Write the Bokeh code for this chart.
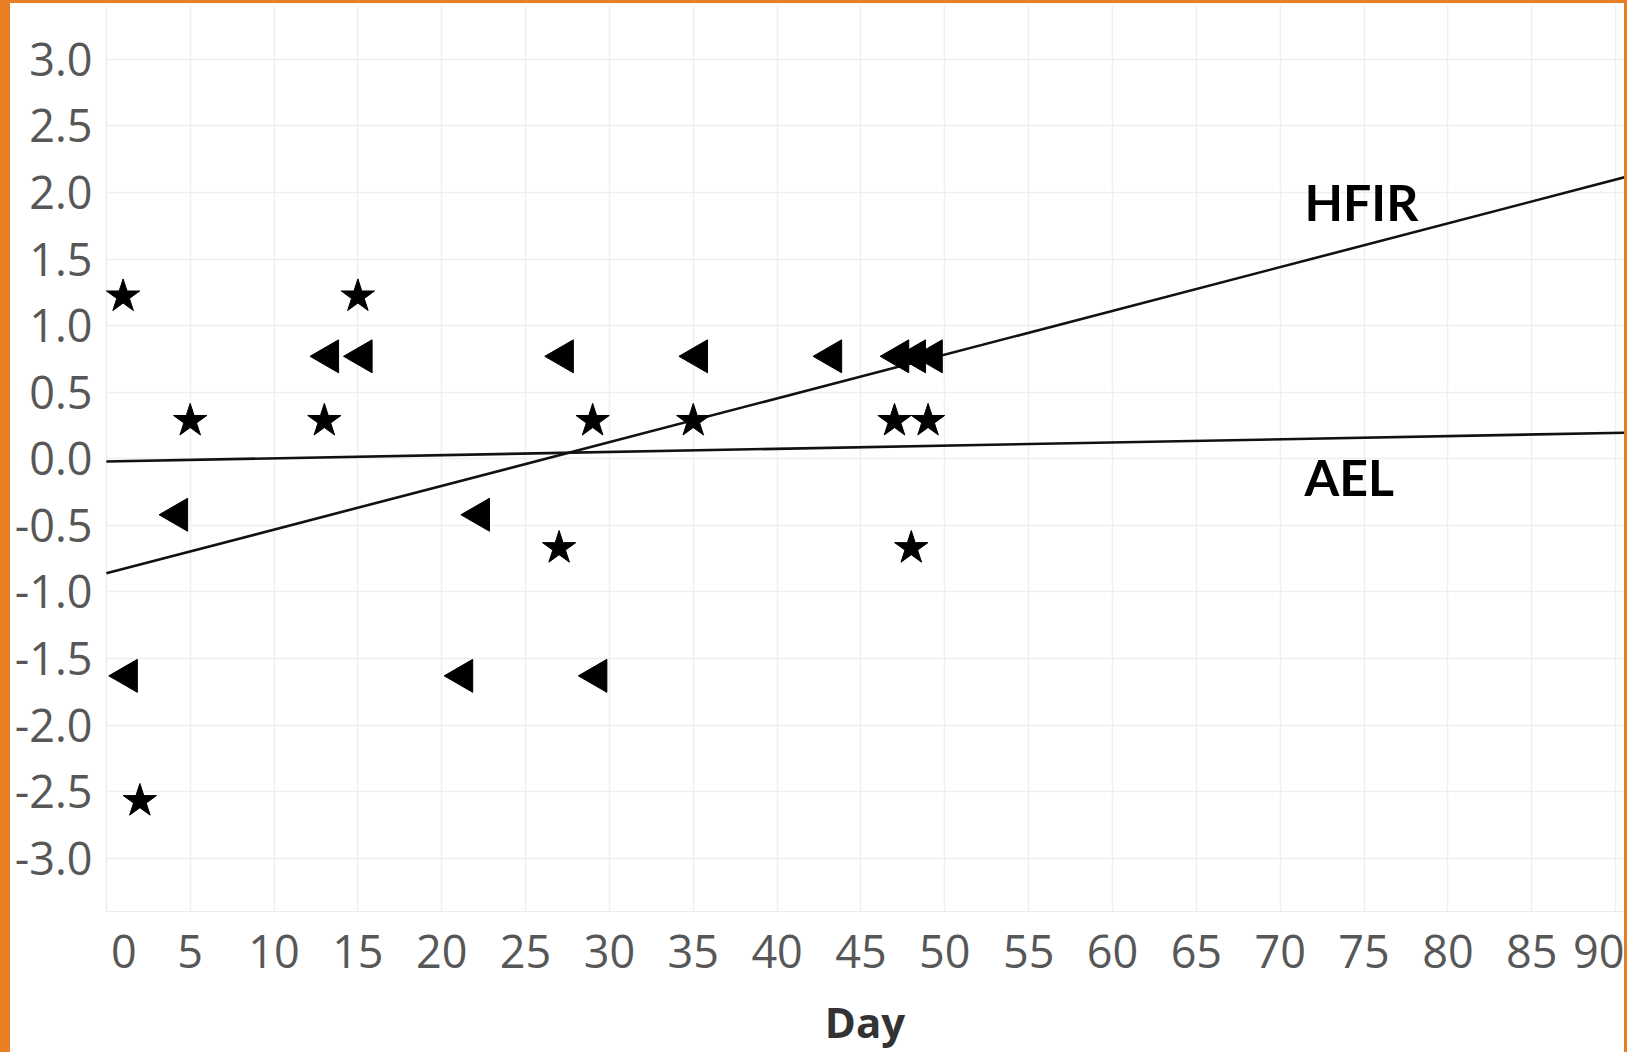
import numpy as np
from bokeh.plotting import figure
from bokeh.layouts import row, column
from bokeh.models import (FixedTicker, NumeralTickFormatter, ColumnDataSource, Range1d, Spacer)
from bokeh.transform import dodge
from bokeh.core.properties import value
from bokeh.embed import file_html
from bokeh.resources import INLINE

# ---- data ----
star_day = [1, 15, 5, 13, 29, 35, 47, 49, 27, 48, 2]
star_val = [1.22, 1.22, 0.285, 0.285, 0.285, 0.285, 0.285, 0.285, -0.67, -0.67, -2.57]

tri_day = [1, 4, 13, 15, 27, 35, 43, 47, 48, 49, 22, 21, 29]
tri_val = [-1.63, -0.42, 0.77, 0.77, 0.77, 0.77, 0.77, 0.77, 0.77, 0.77, -0.42, -1.63, -1.63]

trend_day = [0, 91]
hfir_fit = [-0.86, 2.13]
ael_fit = [-0.02, 0.197]

label_txt = ["HFIR", "AEL"]
label_day = [71.45, 71.45]
label_val = [1.78, -0.29]

x_ticks = list(range(0, 95, 5))
y_ticks = [-3.0, -2.5, -2.0, -1.5, -1.0, -0.5, 0.0, 0.5, 1.0, 1.5, 2.0, 2.5, 3.0]

ORANGE = "#E97E24"
NB = "\u00a0"

BL, BT, BR = 10, 3, 3           # orange frame widths
W, H = 1627 - BL - BR, 1052 - BT  # plot canvas

p = figure(width=W, height=H,
           x_range=Range1d(-0.05, 90.53), y_range=Range1d(-3.40, 3.405),
           output_backend="svg", toolbar_location=None,
           min_border_left=95, min_border_right=0, min_border_top=2, min_border_bottom=140)
p.outline_line_color = None
p.background_fill_color = "white"
p.border_fill_color = "white"

# axes
p.xaxis.ticker = FixedTicker(ticks=x_ticks)
p.yaxis.ticker = FixedTicker(ticks=y_ticks)
p.yaxis.formatter = NumeralTickFormatter(format="0.0")
p.xaxis.major_label_overrides = {0: NB * 3 + "0"}
for ax in (p.xaxis, p.yaxis):
    ax.major_tick_line_color = None
    ax.minor_tick_line_color = None
    ax.major_label_text_font = "Open Sans"
    ax.major_label_text_font_size = "45px"
    ax.major_label_text_color = "#575757"
p.yaxis.axis_line_color = None
p.xaxis.axis_line_color = "#ececec"
p.yaxis.major_label_standoff = 7
p.xaxis.major_label_standoff = 2
p.xaxis.axis_label = "Day"
p.xaxis.axis_label_text_font = "Open Sans"
p.xaxis.axis_label_text_font_style = "bold"
p.xaxis.axis_label_text_font_size = "42px"
p.xaxis.axis_label_text_color = "#333333"
p.xaxis.axis_label_standoff = 9

p.xgrid.grid_line_color = "#efefef"
p.ygrid.grid_line_color = "#efefef"
p.xgrid.grid_line_width = 1.5
p.ygrid.grid_line_width = 1.5

# trend lines
p.line(trend_day, hfir_fit, line_color="#111111", line_width=2.6)
p.line(trend_day, ael_fit, line_color="#111111", line_width=2.6)

# markers
star_src = ColumnDataSource(dict(day=star_day, val=star_val))
tri_src = ColumnDataSource(dict(day=tri_day, val=tri_val))
p.scatter(x="day", y="val", source=star_src, marker="star", size=35,
          fill_color="black", line_color="black")
p.scatter(x=dodge("day", 0.28, range=p.x_range), y="val", source=tri_src,
          marker="triangle", angle=np.pi / 2, size=33,
          fill_color="black", line_color="black")

# labels
p.text(x=label_day, y=label_val, text=label_txt, y_offset=-20,
       text_font=value("Lato"), text_font_style="bold", text_font_size="50px",
       text_baseline="alphabetic", text_align="left", text_color="black")

# orange frame of the original picture, built from plain spacers
orange = {"background-color": ORANGE}
left_bar = Spacer(width=BL, height=BT + H, styles=orange)
top_bar = Spacer(width=W, height=BT, styles=orange)
right_bar = Spacer(width=BR, height=BT + H, styles=orange)
layout = row(left_bar, column(top_bar, p, spacing=0), right_bar, spacing=0)

open("out.html", "w").write(file_html(layout, INLINE))
